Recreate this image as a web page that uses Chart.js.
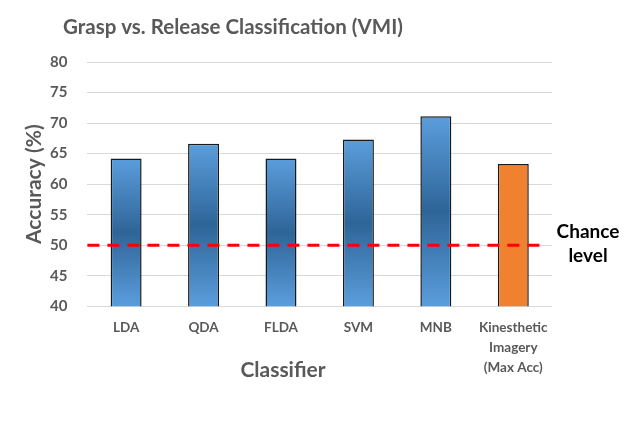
<!DOCTYPE html>
<html>
<head>
<meta charset="utf-8">
<script src="https://cdn.jsdelivr.net/npm/chart.js@4/dist/chart.umd.min.js"></script>
<style>
html,body{margin:0;padding:0;background:#fff;}
canvas{display:block;}
</style>
</head>
<body>
<canvas id="c" width="640" height="426"></canvas>
<script>
const categories = ['LDA', 'QDA', 'FLDA', 'SVM', 'MNB', ['Kinesthetic', 'Imagery', '(Max Acc)']];
const accuracy = [64.2, 66.6, 64.2, 67.3, 71.1, 63.3];
const chanceLevel = 50;
const yMin = 40, yMax = 80, yStep = 5;
const titleText = 'Grasp vs. Release Classification (VMI)';
const xTitleText = 'Classifier';
const yTitleText = 'Accuracy (%)';
const chanceText = ['Chance', 'level'];

const FONT = 'Lato, "Open Sans", sans-serif';
const GRAY = '#595959';

function barFill(ctx) {
  const chart = ctx.chart;
  const i = ctx.dataIndex;
  if (i === categories.length - 1) return '#f0812f';
  const ys = chart.scales.y;
  if (!chart.chartArea || !ys) return '#4a89c8';
  const top = ys.getPixelForValue(accuracy[i]);
  const bot = ys.getPixelForValue(yMin);
  const g = chart.ctx.createLinearGradient(0, top, 0, bot);
  g.addColorStop(0, '#5b9ddc');
  g.addColorStop(0.5, '#2e6598');
  g.addColorStop(1, '#5b9ddc');
  return g;
}

const overlay = {
  id: 'overlay',
  afterDatasetsDraw(chart) {
    const c = chart.ctx, ys = chart.scales.y, a = chart.chartArea;
    const y = ys.getPixelForValue(chanceLevel);
    c.save();
    c.strokeStyle = '#ff0000';
    c.lineWidth = 3;
    c.setLineDash([12, 8]);
    c.beginPath();
    c.moveTo(a.left, y);
    c.lineTo(a.right - 6, y);
    c.stroke();
    c.setLineDash([]);
    c.fillStyle = '#000';
    c.font = 'bold 19px ' + FONT;
    c.textAlign = 'center';
    c.textBaseline = 'middle';
    c.fillText(chanceText[0], 588, y - 13);
    c.fillText(chanceText[1], 588, y + 11);
    c.restore();
  },
  afterDraw(chart) {
    const c = chart.ctx, a = chart.chartArea;
    c.save();
    c.fillStyle = GRAY;
    c.textBaseline = 'middle';
    c.textAlign = 'left';
    c.font = 'bold 20.5px ' + FONT;
    c.fillText(titleText, 63, 27);
    c.textAlign = 'center';
    c.font = 'bold 21px ' + FONT;
    c.fillText(xTitleText, 283, 370);
    c.translate(34, (a.top + a.bottom) / 2);
    c.rotate(-Math.PI / 2);
    c.font = 'bold 21px ' + FONT;
    c.fillText(yTitleText, 0, 0);
    c.restore();
  }
};

new Chart(document.getElementById('c'), {
  type: 'bar',
  data: {
    labels: categories,
    datasets: [{
      data: accuracy,
      backgroundColor: barFill,
      borderColor: '#1a1a1a',
      borderWidth: 1.5,
      borderSkipped: 'bottom',
      barPercentage: 0.4,
      categoryPercentage: 1
    }]
  },
  options: {
    responsive: false,
    animation: false,
    events: [],
    layout: { padding: { top: 62, right: 88, bottom: 37, left: 30 } },
    plugins: { legend: { display: false }, tooltip: { enabled: false }, title: { display: false } },
    scales: {
      x: {
        grid: { display: false, drawTicks: false },
        border: { display: false },
        ticks: { color: GRAY, font: { family: FONT, size: 13.5, weight: 'bold', lineHeight: 1.45 }, padding: 12, maxRotation: 0, autoSkip: false }
      },
      y: {
        min: yMin, max: yMax,
        grid: { color: '#d9d9d9', lineWidth: 1, drawTicks: false },
        border: { display: false },
        ticks: { stepSize: yStep, color: GRAY, font: { family: FONT, size: 15, weight: 'bold' }, padding: 20 }
      }
    }
  },
  plugins: [overlay]
});
</script>
</body>
</html>
